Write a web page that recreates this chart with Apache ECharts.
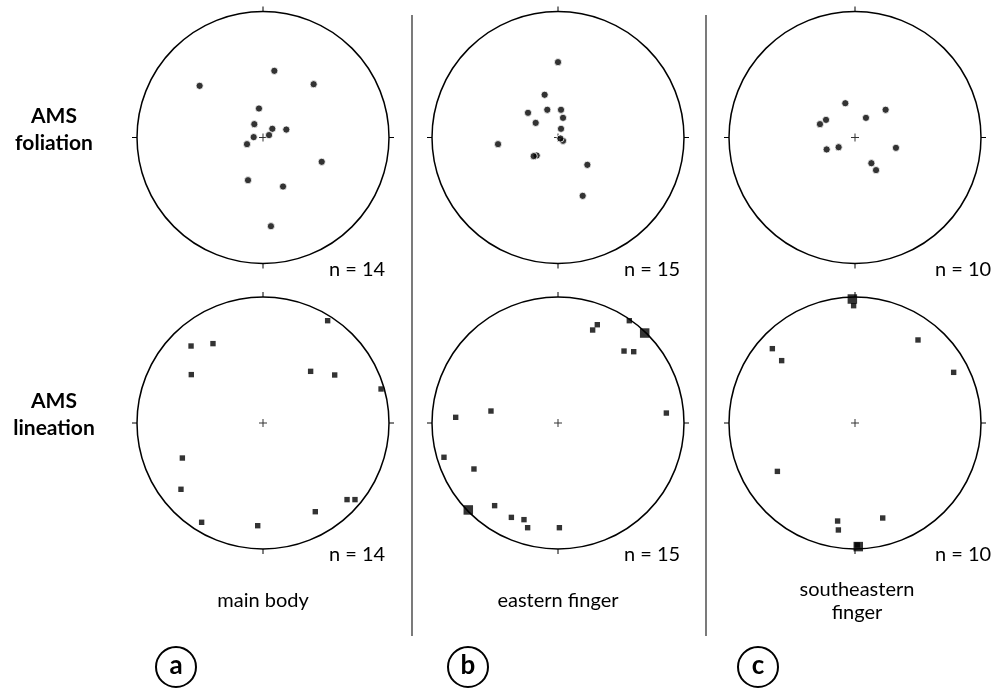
<!DOCTYPE html>
<html>
<head>
<meta charset="utf-8">
<script src="https://cdn.jsdelivr.net/npm/echarts@6/dist/echarts.min.js"></script>
<style>
  html, body { margin: 0; padding: 0; background: #fff; }
  #chart { width: 991px; height: 688px; }
</style>
</head>
<body>
<div id="chart"></div>
<script>
// Stereonet data, lower-hemisphere projection: [east, north] in the unit net.
// AMS foliation poles (dots)
const foliationMainBody = [
  [0.090, 0.529], [-0.503, 0.410], [0.402, 0.423], [-0.032, 0.230],
  [-0.069, 0.106], [0.074, 0.069], [0.185, 0.063], [-0.074, 0.003],
  [0.048, 0.019], [-0.127, -0.053], [0.466, -0.193], [-0.119, -0.339],
  [0.159, -0.389], [0.063, -0.704]
];
const foliationEasternFinger = [
  [0.000, 0.598], [-0.106, 0.339], [-0.238, 0.196], [-0.085, 0.220],
  [0.024, 0.220], [0.040, 0.156], [-0.177, 0.116], [0.024, 0.069],
  [0.040, -0.026], [0.019, -0.008], [-0.476, -0.053], [-0.169, -0.143],
  [-0.193, -0.148], [0.233, -0.217], [0.196, -0.463]
];
const foliationSoutheasternFinger = [
  [-0.077, 0.272], [0.243, 0.220], [0.087, 0.156], [-0.230, 0.140],
  [-0.278, 0.106], [-0.225, -0.095], [-0.130, -0.077], [0.325, -0.082],
  [0.130, -0.204], [0.167, -0.259]
];
// AMS lineations (small squares)
const lineationMainBody = [
  [0.513, 0.812], [-0.571, 0.611], [-0.397, 0.630], [-0.569, 0.384],
  [0.378, 0.410], [0.569, 0.381], [0.937, 0.270], [-0.640, -0.278],
  [-0.651, -0.526], [-0.487, -0.788], [-0.042, -0.815], [0.415, -0.704],
  [0.667, -0.608], [0.730, -0.608]
];
const lineationEasternFinger = [
  [0.566, 0.812], [0.312, 0.780], [0.275, 0.738], [0.524, 0.571],
  [0.601, 0.566], [0.860, 0.079], [-0.532, 0.095], [-0.812, 0.045],
  [-0.905, -0.272], [-0.667, -0.365], [-0.503, -0.656], [-0.370, -0.749],
  [-0.270, -0.767], [-0.241, -0.831], [0.011, -0.831]
];
const lineationSoutheasternFinger = [
  [-0.011, 0.931], [0.500, 0.659], [-0.656, 0.590], [-0.582, 0.495],
  [0.783, 0.402], [-0.616, -0.384], [-0.138, -0.778], [-0.132, -0.849],
  [0.220, -0.754], [0.018, -0.968]
];
// Mean lineation directions (large squares)
const meanLineationMainBody = [];
const meanLineationEasternFinger = [[0.688, 0.714], [-0.712, -0.690]];
const meanLineationSoutheasternFinger = [[-0.021, 0.984], [0.026, -0.981]];

const rowLabels = ['AMS\nfoliation', 'AMS\nlineation'];
const columnLabels = ['main body', 'eastern finger', 'southeastern\nfinger'];
const panelLetters = ['a', 'b', 'c'];

const foliationSets = [foliationMainBody, foliationEasternFinger, foliationSoutheasternFinger];
const lineationSets = [lineationMainBody, lineationEasternFinger, lineationSoutheasternFinger];
const meanSets = [meanLineationMainBody, meanLineationEasternFinger, meanLineationSoutheasternFinger];

// Layout of the nets
const colX = [263, 558, 855];
const rowY = [137.5, 423];
const netRadius = 126;
const countLabelX = [329, 624, 935];
const FONT = 'Lato, "Open Sans", sans-serif';

// [east, north] -> [radius, azimuth clockwise from north]
function toPolar(p) {
  const r = Math.hypot(p[0], p[1]);
  let a = Math.atan2(p[0], p[1]) * 180 / Math.PI;
  if (a < 0) a += 360;
  return [r, a];
}

const PLUS = 'path://M3.5,0h1v3.5h3.5v1h-3.5v3.5h-1v-3.5h-3.5v-1h3.5z';

const polar = [], angleAxis = [], radiusAxis = [], series = [], graphic = [];
let idx = 0;
for (let row = 0; row < 2; row++) {
  for (let col = 0; col < 3; col++) {
    polar.push({ center: [colX[col], rowY[row]], radius: netRadius });
    angleAxis.push({
      polarIndex: idx, type: 'value', min: 0, max: 360, interval: 90,
      startAngle: 90, clockwise: true,
      axisLine: { show: true, lineStyle: { color: '#000', width: 1.5 } },
      axisTick: { show: true, length: 5, lineStyle: { color: '#000', width: 1 } },
      axisLabel: { show: false }, splitLine: { show: false }
    });
    radiusAxis.push({
      polarIndex: idx, type: 'value', min: 0, max: 1,
      axisLine: { show: false }, axisTick: { show: false },
      axisLabel: { show: false }, splitLine: { show: false }
    });
    // centre cross
    series.push({
      type: 'scatter', coordinateSystem: 'polar', polarIndex: idx,
      symbol: PLUS, symbolSize: 8, silent: true,
      itemStyle: { color: '#000' }, data: [[0, 0]], z: 1
    });
    const pts = row === 0 ? foliationSets[col] : lineationSets[col];
    series.push({
      type: 'scatter', coordinateSystem: 'polar', polarIndex: idx,
      symbol: row === 0 ? 'circle' : 'rect',
      symbolSize: row === 0 ? 7.2 : 5.4,
      itemStyle: row === 0
        ? { color: '#000', borderColor: '#fff', borderWidth: 1 }
        : { color: '#000' },
      data: pts.map(toPolar), z: 2
    });
    if (row === 1 && meanSets[col].length) {
      series.push({
        type: 'scatter', coordinateSystem: 'polar', polarIndex: idx,
        symbol: 'rect', symbolSize: 9.5,
        itemStyle: { color: '#000' },
        data: meanSets[col].map(toPolar), z: 3
      });
    }
    graphic.push({
      type: 'text', x: countLabelX[col], y: rowY[row] + 132,
      style: { text: 'n = ' + pts.length, font: '20px ' + FONT, fill: '#000',
               align: 'left', verticalAlign: 'middle' }
    });
    idx++;
  }
}

// row titles
rowLabels.forEach((t, i) => {
  graphic.push({
    type: 'text', x: 54, y: rowY[i] - 8,
    style: { text: t, font: 'bold 21px ' + FONT, fill: '#000', align: 'center',
             verticalAlign: 'middle', lineHeight: 27 }
  });
});

// column captions and panel letters
columnLabels.forEach((t, i) => {
  graphic.push({
    type: 'text', x: colX[i] + (i === 2 ? 2 : 0), y: 601,
    style: { text: t, font: '20px ' + FONT, fill: '#000', align: 'center',
             verticalAlign: 'middle', lineHeight: 23 }
  });
});
const letterX = [176, 468, 758];
panelLetters.forEach((t, i) => {
  graphic.push({
    type: 'circle', shape: { cx: letterX[i], cy: 667, r: 20 },
    style: { fill: 'none', stroke: '#000', lineWidth: 2 }
  });
  graphic.push({
    type: 'text', x: letterX[i], y: 666,
    style: { text: t, font: 'bold 26px ' + FONT, fill: '#000', align: 'center',
             verticalAlign: 'middle' }
  });
});

// column separators
[412, 706].forEach(x => {
  graphic.push({
    type: 'line', shape: { x1: x, y1: 15, x2: x, y2: 636 },
    style: { stroke: '#333', lineWidth: 1.3 }
  });
});

const chart = echarts.init(document.getElementById('chart'));
chart.setOption({
  backgroundColor: '#fff',
  animation: false,
  polar, angleAxis, radiusAxis, series, graphic
});
</script>
</body>
</html>
